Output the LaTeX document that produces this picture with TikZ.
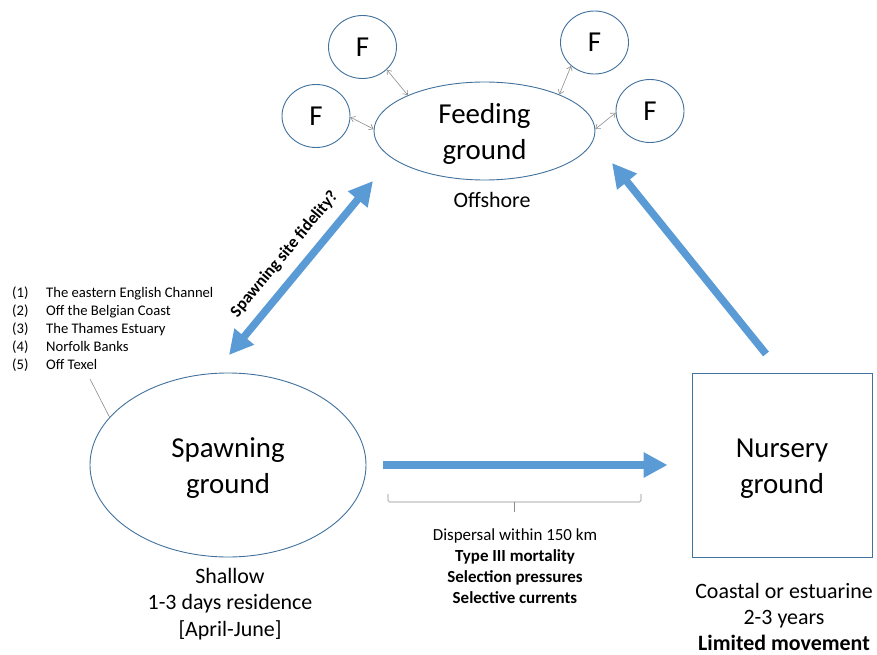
\documentclass[tikz,border=0pt]{standalone}
\usepackage{fontspec}
\setmainfont{Carlito}
\usetikzlibrary{shapes.geometric,arrows.meta}

\definecolor{arrowblue}{RGB}{91,155,213}
\definecolor{edgeblue}{RGB}{65,113,156}
\definecolor{linegray}{RGB}{140,140,140}

\tikzset{
    ground/.style={ellipse, draw=edgeblue, line width=0.9bp, align=center, inner sep=0pt,
        text height=62bp, font=\fontsize{29}{36}\selectfont},
    fcircle/.style={ellipse, draw=edgeblue, line width=0.9bp, inner sep=0pt,
        minimum width=68bp, minimum height=63bp, font=\fontsize{29}{36}\selectfont},
    bigarrow/.style={draw=arrowblue, line width=7.5bp, -{Triangle[width=24bp,length=24bp]}},
    smallarrow/.style={draw=linegray, line width=0.6bp,
        {Straight Barb[length=4bp,width=6bp]}-{Straight Barb[length=4bp,width=6bp]}},
    note/.style={align=center, font=\fontsize{22}{26.5}\selectfont},
}

\begin{document}
\begin{tikzpicture}[x=1bp,y=1bp]
    \useasboundingbox (0,0) rectangle (877,-655);

    % Draw grounds
    \node[ground, minimum width=221bp, minimum height=98bp] (feed) at (484.5,-131) {Feeding\\ground};
    \node[ground, minimum width=276bp, minimum height=184bp] (spawn) at (228,-465) {Spawning\\ground};
    \node[draw=edgeblue, line width=0.9bp, align=center, minimum width=180bp, minimum height=184bp,
        text height=62bp, font=\fontsize{29}{36}\selectfont] (nurs) at (782,-465) {Nursery\\ground};

    % Draw feeding sites
    \node[fcircle] (f1) at (362.5,-47) {F};
    \node[fcircle] (f2) at (316,-116) {F};
    \node[fcircle] (f3) at (594.5,-42.5) {F};
    \node[fcircle] (f4) at (650,-111) {F};
    \draw[smallarrow] (f1.-43) -- (feed.155);
    \draw[smallarrow] (f2.-2) -- (feed.179);
    \draw[smallarrow] (f3.-135) -- (feed.26);
    \draw[smallarrow] (f4.183) -- (feed.1);

    % Draw migration arrows
    \coordinate (fidlow) at (229,-355);
    \coordinate (fidup) at (373,-181);
    \coordinate (nurtail) at (766,-354);
    \coordinate (nurtip) at (612,-163);
    \draw[bigarrow, {Triangle[width=24bp,length=24bp]}-{Triangle[width=24bp,length=24bp]}]
        (fidlow) -- node[pos=0.5, sloped, above=7bp, font=\bfseries\fontsize{17}{20}\selectfont] {Spawning site fidelity?} (fidup);
    \draw[bigarrow] (nurtail) -- (nurtip);
    \draw[bigarrow, shorten <=17bp, shorten >=24bp] (spawn.east) -- (nurs.west);

    % Dispersal bracket
    \draw[linegray, line width=0.6bp, rounded corners=1.5bp] (388,-494) -- (388,-502) -- (641,-502) -- (641,-494);
    \draw[linegray, line width=0.6bp] (514.5,-502) -- (514.5,-512);

    % Label grounds
    \node[note] (offshore) at (492,-200) {Offshore};
    \node[note] (shallow) at (230,-604) {Shallow\\1-3 days residence\\{[April-June]}};
    \node[note] (coastal) at (784,-617) {Coastal or estuarine\\2-3 years\\\textbf{Limited movement}};
    \node[align=center, font=\fontsize{17}{21}\selectfont] (dispersal) at (515,-566)
        {Dispersal within 150 km\\\textbf{Type III mortality}\\\textbf{Selection pressures}\\\textbf{Selective currents}};

    % Spawning sites
    \node[anchor=west, align=left, inner sep=0pt, font=\fontsize{14.7}{18}\selectfont] (sites) at (12,-329)
        {\makebox[34bp][l]{(1)}The eastern English Channel\\
         \makebox[34bp][l]{(2)}Off the Belgian Coast\\
         \makebox[34bp][l]{(3)}The Thames Estuary\\
         \makebox[34bp][l]{(4)}Norfolk Banks\\
         \makebox[34bp][l]{(5)}Off Texel};
    \coordinate (leader) at (90,-379);
    \draw[linegray, line width=0.6bp] (leader) -- (spawn.158);
\end{tikzpicture}
\end{document}
